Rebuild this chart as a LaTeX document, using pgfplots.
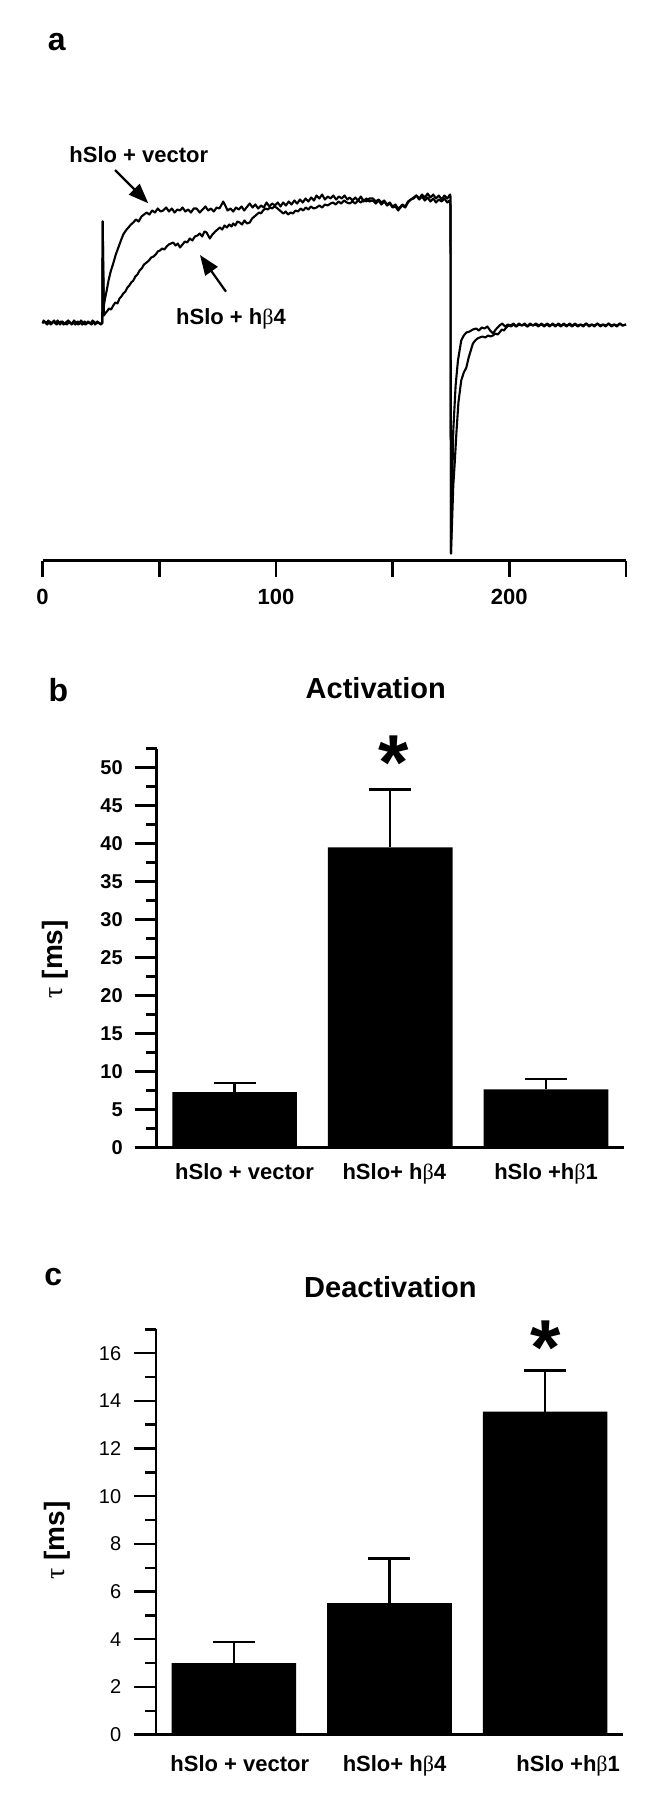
\documentclass[border=0pt]{standalone}
\usepackage{fontspec}
\setmainfont{Liberation Sans}
\newfontfamily\grk{Liberation Serif}
\usepackage{pgfplots}
\pgfplotsset{compat=1.18}
\usepackage{pgfplotstable}
\usetikzlibrary{arrows.meta}

\pgfplotstableread{
x y e
0 7.3 1.15
1 39.5 7.6
2 7.65 1.4
}\actdata
\pgfplotstableread{
x y e
0 3.0 0.88
1 5.52 1.86
2 13.55 1.73
}\deactdata

\pgfplotsset{
  barpanel/.style={
    scale only axis, xmin=-0.5, xmax=2.5, ymin=0,
    axis x line*=bottom, axis y line*=left,
    axis line style={line width=1.4pt},
    xtick={0,1,2}, major x tick style={draw=none},
    tick align=outside,
    major tick length=11pt, minor tick length=5.3pt,
    tick style={line width=1.2pt, black},
    ybar, bar width=62.3pt,
    /pgf/number format/assume math mode=true,
    clip=false,
    every axis title shift=0pt,
    title style={font=\bfseries\fontsize{14.5}{16}\selectfont, anchor=center},
    ylabel style={font=\bfseries\fontsize{14}{16}\selectfont, anchor=center},
  },
  barplot/.style={fill=black, draw=none,
    error bars/.cd, y dir=plus, y explicit,
    error bar style={line width=1.2pt, black},
    error mark options={rotate=90, line width=1.2pt, mark size=10.5pt, black}},
  trace/.style={black, line width=1.05pt, line join=round, mark=none},
}

\begin{document}
\begin{tikzpicture}
\useasboundingbox (0,0) rectangle (330.5pt,-900pt);

% ---------------- panel a ----------------
\begin{axis}[
  at={(21.25pt,-280.25pt)}, anchor=south west,
  scale only axis, width=291.75pt, height=230pt,
  xmin=0, xmax=250, ymin=0, ymax=460,
  axis x line*=bottom, hide y axis,
  axis line style={line width=1.5pt},
  xtick={0,100,200}, minor xtick={50,150,250},
  tick align=outside, major tick length=8pt, minor tick length=8pt,
  tick style={line width=1.3pt, black},
  /pgf/number format/assume math mode=true,
  xticklabel style={font=\bfseries\fontsize{11}{13}\selectfont, yshift=-3pt},
  clip=false,
]
\addplot[trace] coordinates {
(0,238)(1,239)(2,236)(3,239)(4,237)(5,240)(6,236)(7,238)(8,239)(9,236)(10,238)(11,240)(12,237)(13,238)(14,236)(15,239)(16,238)(17,236)(18,239)(19,237)(20,238)(21,236)(22,239)(23,237)(24,238)(25,236)(25.6,238)
(25.8,339)(26.0,300)(26.3,255)(26.8,262)(27.5,270)(28.3,280)(29.2,289)(30.3,297)(31.4,306)(32.5,313)(33.6,320)(34.6,326)(35.7,330)(36.8,333)(37.9,336)(38.9,338)(40,341)(41.2,339)(42.4,344)(43.5,346)(44.6,348)(45.8,346)(47,350)(48.2,348)(49.4,352)(50.6,349)(51.7,350)(53,353)(54.2,349)(55.4,352)(56.6,348)(57.8,351)(58.9,350)(60,353)(61.2,349)(62.4,351)(63.6,348)(64.8,352)(66,352)(67.4,348)(68.6,351)(69.8,354)(71,350)(72.2,352)(73.4,349)(74.6,353)(75.8,352)(77,357)(77.4,359)(78.1,356)(79.3,350)(80.5,352)(81.7,349)(82.9,353)(84.1,351)(85.3,354)(86.4,350)(87.4,353)(88.8,357)(90,353)(91.2,356)(92.4,352)(93.6,355)(94.8,353)(96,358)(97.2,354)(98.4,357)(99.6,355)(100.8,358)(102,354)(103.1,358)(104.3,355)(105.5,359)(106.7,356)(107.9,360)(109.1,357)(110.3,361)(111.5,358)(112.7,362)(113.9,359)(115.1,363)(116.3,360)(117.4,365)(118.6,362)(119.8,366)(121,361)(122.2,364)(123.4,362)(124.6,365)(125.8,361)(127,364)(128.2,362)(129.4,365)(130.6,361)(131.6,363)(132.8,360)(134,363)(135.2,360)(136.4,364)(137.6,359)(138.8,362)(140,359)(141.6,360)(142.8,357)(144,360)(145.2,356)(146.4,359)(147.6,355)(148.8,357)(150,353)(151.2,354)(152.4,350)(153,352)(154.2,355)(155.4,353)(156.6,358)(157.8,361)(159,363)(160.2,365)(161.4,362)(162.6,366)(163.8,363)(165,367)(166.2,363)(167.4,366)(168.6,362)(169.8,365)(171,361)(172.2,365)(173.4,362)(174.6,366)(174.8,364)
(175.0,7)(175.4,60)(176,130)(177,175)(178,200)(179.4,220)(180.5,225)(181.6,228)(183,229)(184.4,231)(185.8,232)(187,230)(188.2,233)(189.4,232)(190.6,234)(191.8,230)(193,227)(194.2,231)(195.8,235)(197,237)(198.2,234)(199.4,236)
(200.6,235)(201.8,237)(203,234)(204.2,236)(205.4,235)(206.6,237)(207.8,234)(209,236)(210.2,235)(211.4,237)(212.6,235)(213.8,236)(215,234)(216.2,237)(217.4,235)(218.6,236)(219.8,234)(221,237)(222.2,235)(223.4,236)(224.6,234)(225.8,237)(227,235)(228.2,236)(229.4,234)(230.6,236)(231.8,235)(233,237)(234.2,234)(235.4,236)(236.6,235)(237.8,237)(239,234)(240.2,236)(241.4,235)(242.6,237)(243.8,234)(245,236)(246.2,235)(247.4,237)(248.6,235)(250,236)
};
\addplot[trace] coordinates {
(0,237)(0.5,240)(1.5,237)(2.5,240)(3.5,236)(4.5,239)(5.5,237)(6.5,240)(7.5,236)(8.5,239)(9.5,237)(10.5,236)(11.5,239)(12.5,236)(13.5,240)(14.5,237)(15.5,236)(16.5,240)(17.5,237)(18.5,236)(19.5,239)(20.5,237)(21.5,240)(22.5,236)(23.5,239)(24.5,237)(25.6,237)
(25.8,339)(26.0,290)(26.3,245)(26.8,247)(27.6,249)(28.5,252)(29.4,251)(30.3,255)(31.2,258)(32.1,257)(33,262)(33.8,264)(34.6,267)(35.5,269)(36.4,273)(37.2,275)(38,278)(38.9,280)(39.8,284)(40.7,286)(41.6,290)(42.5,292)(43.5,296)(44.6,298)(45.6,300)(46.6,303)(47.6,304)(48.5,306)(49.4,309)(50.3,310)(51.3,312)(52.2,311)(53.2,314)(54.1,316)(55,317)(56,318)(57,315)(58,317)(58.9,313)(60,316)(61,319)(62,318)(63.1,322)(64.2,320)(65.3,324)(66.4,325)(67.4,327)(68.4,324)(69.4,329)(70.3,328)(71,325)(71.7,322)(72.8,326)(74,329)(75,331)(76,333)(77,331)(78,335)(79,333)(80,336)(81,334)(81.7,337)(82.6,335)(83.5,339)(84.5,338)(85.5,336)(86.5,340)(87.6,337)(88.8,338)(89.8,342)(90.8,344)(91.8,346)(92.8,348)(93.6,347)(94.5,350)(95.5,352)(96.5,351)(97.5,353)(98.4,352)(99.3,354)(100.2,353)(101.2,351)(102.2,349)(103.2,347)(104.2,349)(105.2,346)(106.3,348)(107.3,347)(108.4,350)(109.5,349)(110.6,352)(111.7,350)(112.8,353)(113.9,351)(115,354)(116.2,352)(117.4,353)(118.6,355)(119.8,353)(121,356)(122.2,355)(123.4,357)(124.5,358)(125.6,356)(126.8,359)(128,357)(129.2,360)(130.4,358)(131.6,357)(132.8,359)(134,357)(135.2,360)(136.4,358)(137.6,361)(138.8,359)(140,362)(141.6,362)(142.8,359)(144,361)(145.2,358)(146.4,360)(147.6,356)(148.8,358)(150,354)(151.2,356)(152.4,352)(153,353)(154.2,356)(155.4,354)(156.6,359)(157.8,361)(159,362)(160.2,365)(161.4,361)(162.6,364)(163.8,360)(165,363)(166.2,359)(167.4,362)(168.6,358)(169.8,361)(171,359)(172.2,362)(173.4,358)(174.4,360)(174.8,355)
(175.0,7)(175.5,40)(176,75)(176.6,97)(177.4,130)(178.2,158)(179.4,180)(180.5,188)(181.6,193)(182.6,203)(183.5,210)(184.4,217)(185.4,220)(186.3,222)(187.3,223)(188.5,224)(189.7,223)(190.9,225)(192,224)(193,225)(194,227)(195,226)(195.8,228)(196.8,231)(197.7,230)(198.7,233)(199.7,235)
(200.7,234)(201.7,236)(202.9,234)(204.1,237)(205.3,235)(206.5,236)(207.7,234)(208.9,237)(210.1,235)(211.3,236)(212.5,234)(213.7,237)(214.9,235)(216.1,236)(217.3,234)(218.5,237)(219.7,235)(220.9,236)(222.1,234)(223.3,237)(224.5,235)(225.7,236)(226.9,234)(228.1,237)(229.3,235)(230.5,236)(231.7,234)(232.9,237)(234.1,235)(235.3,236)(236.5,234)(237.7,237)(238.9,235)(240.1,236)(241.3,234)(242.5,237)(243.7,235)(244.9,236)(246.1,234)(247.3,237)(248.5,235)(250,236)
};
\end{axis}

% ---------------- panel b ----------------
\begin{axis}[barpanel,
  at={(78.35pt,-573.75pt)}, anchor=south west,
  width=233.6pt, height=199.5pt,
  ymax=52.5, ytick={0,5,...,50}, minor ytick={2.5,7.5,...,52.5},
  yticklabel style={font=\bfseries\fontsize{10}{12}\selectfont, xshift=-2.5pt},
  xticklabel style={font=\bfseries\fontsize{11}{13}\selectfont, yshift=6.75pt},
  xticklabels={\hspace*{10pt}hSlo + vector,\hspace*{4pt}hSlo+ h{\grk\mdseries β}4,hSlo +h{\grk\mdseries β}1},
  title={Activation},
  title style={at={(axis description cs:0.469,1.151)}},
  ylabel={{\grk\mdseries τ} [ms]},
  ylabel style={at={(axis description cs:-0.218,0.472)}},
]
\addplot[barplot] table[x=x, y=y, y error=e] {\actdata};
\node[anchor=base, yshift=-21.5pt, font=\bfseries\fontsize{39}{39}\selectfont, inner sep=0pt] at (axis cs:1.02,52.7) {*};
\end{axis}

% ---------------- panel c ----------------
\begin{axis}[barpanel,
  at={(78pt,-867.3pt)}, anchor=south west,
  width=233.5pt, height=202.65pt,
  ymax=17, ytick={0,2,...,16}, minor ytick={1,3,...,17},
  yticklabel style={font=\fontsize{10}{12}\selectfont, xshift=-2.85pt},
  xticklabel style={font=\bfseries\fontsize{11}{13}\selectfont, yshift=4pt},
  xticklabels={\hspace*{6pt}hSlo + vector,\hspace*{5pt}hSlo+ h{\grk\mdseries β}4,\hspace*{23pt}hSlo +h{\grk\mdseries β}1},
  title={Deactivation},
  title style={at={(axis description cs:0.502,1.105)}},
  ylabel={{\grk\mdseries τ} [ms]},
  ylabel style={at={(axis description cs:-0.212,0.479)}},
]
\addplot[barplot] table[x=x, y=y, y error=e] {\deactdata};
\node[anchor=base, yshift=-21.5pt, font=\bfseries\fontsize{39}{39}\selectfont, inner sep=0pt] at (axis cs:2.005,16.9) {*};
\end{axis}

% ---------------- annotations ----------------
\node[font=\bfseries\fontsize{16}{18}\selectfont, inner sep=0pt] at (28.35pt,-20.85pt) {a};
\node[font=\bfseries\fontsize{16}{18}\selectfont, inner sep=0pt] at (29.15pt,-345pt) {b};
\node[font=\bfseries\fontsize{16}{18}\selectfont, inner sep=0pt] at (26.65pt,-638.65pt) {c};
\node[font=\bfseries\fontsize{11}{13}\selectfont, inner sep=0pt] at (69.4pt,-77.15pt) {hSlo + vector};
\node[font=\bfseries\fontsize{11}{13}\selectfont, inner sep=0pt] at (115.5pt,-159.65pt) {hSlo + h{\grk\mdseries β}4};
\draw[line width=1.1pt, -{Triangle[length=10pt,width=7.5pt]}] (57.5pt,-85pt) -- (74.15pt,-101.65pt);
\draw[line width=1.1pt, -{Triangle[length=10pt,width=7.5pt]}] (113pt,-145.85pt) -- (100pt,-127.5pt);
\end{tikzpicture}
\end{document}
